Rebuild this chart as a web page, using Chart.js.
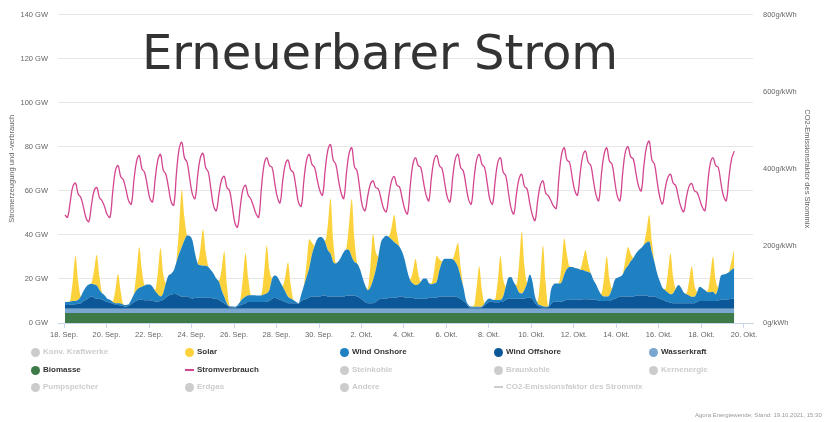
<!DOCTYPE html>
<html>
<head>
<meta charset="utf-8">
<script src="https://cdn.jsdelivr.net/npm/chart.js@4.4.1/dist/chart.umd.min.js"></script>
<style>
  html, body { margin: 0; padding: 0; background: #fff; }
  #wrap { position: relative; width: 826px; height: 422px; overflow: hidden; font-family: "Liberation Sans", Arial, sans-serif; }
  #c { position: absolute; left: 0; top: 0; }
  #title { position: absolute; left: 142px; top: 28px; font-family: "DejaVu Sans", Verdana, sans-serif; font-size: 48px; line-height: 48px; color: #333; white-space: nowrap; }
  .lg { position: absolute; font-size: 8px; font-weight: bold; color: #333; white-space: nowrap; line-height: 10px; }
  .lg.off { color: #cccccc; }
  .dot { position: absolute; width: 9px; height: 9px; border-radius: 50%; }
  .ln { position: absolute; width: 9px; height: 1.5px; }
  #foot { position: absolute; left: 695px; top: 411px; font-size: 6px; color: #999; white-space: nowrap; line-height: 8px; }
</style>
</head>
<body>
<div id="wrap">
  <canvas id="c" width="826" height="422"></canvas>
  <div id="title">Erneuerbarer Strom</div>
  <div id="legend"></div>
  <div id="foot">Agora Energiewende; Stand: 19.10.2021, 15:30</div>
</div>
<script>
// ---- time grid: 3-hourly values starting 18. Sep. 2021, 01:00 ----
const firstHour = 1;
const stepHours = 3;
const tickLabels = ['18. Sep.', '20. Sep.', '22. Sep.', '24. Sep.', '26. Sep.', '28. Sep.', '30. Sep.', '2. Okt.', '4. Okt.', '6. Okt.', '8. Okt.', '10. Okt.', '12. Okt.', '14. Okt.', '16. Okt.', '18. Okt.', '20. Okt.'];

// ---- series (GW), one row per day ----
const biomasse = [
4.5,4.5,4.5,4.5,4.5,4.5,4.5,4.5, 4.5,4.5,4.5,4.5,4.5,4.5,4.5,4.5, 4.5,4.5,4.5,4.5,4.5,4.5,4.5,4.5, 4.5,4.5,4.5,4.5,4.5,4.5,4.5,4.5,
4.5,4.5,4.5,4.5,4.5,4.5,4.5,4.5, 4.5,4.5,4.5,4.5,4.5,4.5,4.5,4.5, 4.5,4.5,4.5,4.5,4.5,4.5,4.5,4.5, 4.5,4.5,4.5,4.5,4.5,4.5,4.5,4.5,
4.5,4.5,4.5,4.5,4.5,4.5,4.5,4.5, 4.5,4.5,4.5,4.5,4.5,4.5,4.5,4.5, 4.5,4.5,4.5,4.5,4.5,4.5,4.5,4.5, 4.5,4.5,4.5,4.5,4.5,4.5,4.5,4.5,
4.5,4.5,4.5,4.5,4.5,4.5,4.5,4.5, 4.5,4.5,4.5,4.5,4.5,4.5,4.5,4.5, 4.5,4.5,4.5,4.5,4.5,4.5,4.5,4.5, 4.5,4.5,4.5,4.5,4.5,4.5,4.5,4.5,
4.5,4.5,4.5,4.5,4.5,4.5,4.5,4.5, 4.5,4.5,4.5,4.5,4.5,4.5,4.5,4.5, 4.5,4.5,4.5,4.5,4.5,4.5,4.5,4.5, 4.5,4.5,4.5,4.5,4.5,4.5,4.5,4.5,
4.5,4.5,4.5,4.5,4.5,4.5,4.5,4.5, 4.5,4.5,4.5,4.5,4.5,4.5,4.5,4.5, 4.5,4.5,4.5,4.5,4.5,4.5,4.5,4.5, 4.5,4.5,4.5,4.5,4.5,4.5,4.5,4.5,
4.5,4.5,4.5,4.5,4.5,4.5,4.5,4.5, 4.5,4.5,4.5,4.5,4.5,4.5,4.5,4.5, 4.5,4.5,4.5,4.5,4.5,4.5,4.5,4.5, 4.5,4.5,4.5,4.5,4.5,4.5,4.5,4.5,
4.5,4.5,4.5,4.5,4.5,4.5,4.5,4.5, 4.5,4.5,4.5,4.5,4.5,4.5,4.5,4.5, 4.5,4.5,4.5,4.5,4.5,4.5,4.5,4.5, 4.5,4.5,4.5,4.5,4.5
];
const wasserkraft = [
2.0,2.0,2.0,2.0,2.0,2.0,2.0,2.0, 2.0,2.0,2.0,2.0,2.0,2.0,2.0,2.0, 2.0,2.0,2.0,2.0,2.0,2.0,2.0,2.0, 2.0,2.0,2.0,2.0,2.0,2.0,2.0,2.0,
2.0,2.0,2.0,2.0,2.0,2.0,2.0,2.0, 2.0,2.0,2.0,2.0,2.0,2.0,2.0,2.0, 2.0,2.0,2.0,2.0,2.0,2.0,2.0,2.0, 2.0,2.0,2.0,2.0,2.0,2.0,2.0,2.0,
2.0,2.0,2.0,2.0,2.0,2.0,2.0,2.0, 2.0,2.0,2.0,2.0,2.0,2.0,2.0,2.0, 2.0,2.0,2.0,2.0,2.0,2.0,2.0,2.0, 2.0,2.0,2.0,2.0,2.0,2.0,2.0,2.0,
2.0,2.0,2.0,2.0,2.0,2.0,2.0,2.0, 2.0,2.0,2.0,2.0,2.0,2.0,2.0,2.0, 2.0,2.0,2.0,2.0,2.0,2.0,2.0,2.0, 2.0,2.0,2.0,2.0,2.0,2.0,2.0,2.0,
2.0,2.0,2.0,2.0,2.0,2.0,2.0,2.0, 2.0,2.0,2.0,2.0,2.0,2.0,2.0,2.0, 2.0,2.0,2.0,2.0,2.0,2.0,2.0,2.0, 2.0,2.0,2.0,2.0,2.0,2.0,2.0,2.0,
2.0,2.0,2.0,2.0,2.0,2.0,2.0,2.0, 2.0,2.0,2.0,2.0,2.0,2.0,2.0,2.0, 2.0,2.0,2.0,2.0,2.0,2.0,2.0,2.0, 2.0,2.0,2.0,2.0,2.0,2.0,2.0,2.0,
2.0,2.0,2.0,2.0,2.0,2.0,2.0,2.0, 2.0,2.0,2.0,2.0,2.0,2.0,2.0,2.0, 2.0,2.0,2.0,2.0,2.0,2.0,2.0,2.0, 2.0,2.0,2.0,2.0,2.0,2.0,2.0,2.0,
2.0,2.0,2.0,2.0,2.0,2.0,2.0,2.0, 2.0,2.0,2.0,2.0,2.0,2.0,2.0,2.0, 2.0,2.0,2.0,2.0,2.0,2.0,2.0,2.0, 2.0,2.0,2.0,2.0,2.0
];
const windOffshore = [
1.7,1.7,1.8,1.9,2.0,2.2,2.5,3.5,
4.0,5.0,5.5,5.0,4.5,4.5,4.0,3.5,
3.0,2.7,2.3,1.8,1.7,1.5,1.1,0.9,
1.3,2.0,3.0,3.7,4.0,4.0,3.8,3.8,
3.8,3.5,3.3,3.3,3.5,4.0,5.0,6.0,
6.3,6.7,6.5,6.0,5.5,5.5,5.5,5.0,
4.6,5.0,5.0,5.0,5.0,5.0,5.0,5.0,
4.5,4.5,3.9,3.1,2.4,1.6,0.7,0.6,
0.5,1.0,1.5,2.0,2.5,3.0,3.0,3.0,
3.0,3.0,3.0,3.0,3.3,3.5,4.5,5.0,
4.5,4.0,3.5,3.0,2.5,2.5,2.5,2.5,
2.3,3.5,4.0,4.5,5.0,5.5,5.5,5.5,
5.5,6.0,6.0,5.5,5.5,5.5,5.5,5.5,
5.5,5.5,6.0,6.0,6.0,6.0,5.5,5.0,
4.0,3.0,2.5,2.5,2.5,3.0,4.0,4.5,
4.5,4.5,5.0,5.0,5.0,5.0,5.5,5.5,
5.0,5.0,5.0,5.0,4.5,4.5,4.5,4.5,
4.5,5.0,5.0,5.0,5.0,5.5,5.5,5.5,
5.5,5.5,5.5,5.5,5.0,4.5,3.5,2.5,
0.8,0.5,0.4,0.4,0.5,0.6,1.5,2.5,
3.1,3.0,2.9,2.9,3.0,3.3,4.0,4.5,
4.5,4.5,4.5,4.5,4.5,4.5,5.0,5.0,
4.5,2.5,1.3,0.8,0.7,0.7,0.8,2.0,
3.1,3.1,3.1,3.3,3.5,4.0,4.0,4.0,
4.0,4.0,4.0,4.3,4.3,4.3,4.0,4.0,
4.0,3.5,3.5,3.5,3.5,3.5,4.0,4.5,
5.0,5.5,5.5,5.5,5.5,5.5,5.5,6.0,
6.0,6.0,6.0,6.0,5.5,5.5,5.5,5.0,
4.5,4.0,3.5,3.0,2.7,2.5,2.5,2.5,
2.5,2.5,2.5,2.5,2.5,2.5,3.0,3.5,
3.5,3.5,3.5,3.5,3.5,3.5,3.7,4.0,
4.0,4.0,4.3,4.5,4.5
];
const windOnshore = [
1.3,1.3,1.5,1.6,1.5,1.8,3.0,4.5,
6.0,6.0,5.8,6.0,6.0,4.0,3.0,2.5,
1.5,1.3,0.7,0.7,0.8,0.8,0.7,0.8,
0.7,2.0,3.5,4.8,5.5,6.0,6.7,7.2,
7.2,6.5,4.7,3.2,2.0,3.0,6.5,9.0,
9.6,10.7,14.7,19.0,22.5,25.5,27.7,28.0,
26.4,20.0,15.5,14.7,14.5,14.5,13.9,12.4,
11.4,9.2,8.3,5.3,3.0,0.8,0.4,0.4,
0.4,0.6,1.6,2.6,2.9,3.1,3.1,3.1,
3.0,3.0,3.0,3.5,3.7,5.0,9.0,10.0,
9.9,8.2,6.4,4.7,2.9,2.1,1.4,0.6,
0.2,3.0,6.5,10.0,13.5,19.0,23.0,26.0,
27.0,26.2,24.2,21.0,19.5,15.7,15.0,16.0,
18.0,20.2,20.8,20.5,17.5,15.2,15.0,13.2,
10.4,7.7,5.9,7.1,10.4,14.4,19.5,25.7,
27.7,28.6,27.5,26.4,25.2,24.2,22.5,20.2,
16.9,11.7,7.9,6.4,6.2,6.5,7.7,9.2,
9.2,6.7,6.1,6.4,7.2,11.9,15.7,17.2,
17.2,17.2,16.9,15.7,13.9,9.9,6.4,1.4,
0.8,0.5,0.5,0.5,0.4,0.4,1.0,1.5,
1.5,1.0,1.0,1.0,1.0,2.2,5.9,9.5,
9.9,7.5,5.4,2.8,2.4,4.0,6.5,10.5,
8.0,3.0,1.2,0.7,0.4,0.2,0.1,6.5,
7.9,8.3,8.3,8.7,12.0,14.0,14.9,14.9,
14.5,14.2,13.7,13.2,12.7,12.4,12.0,9.0,
7.0,4.8,2.8,2.0,2.0,2.6,5.0,8.5,
9.0,9.0,10.0,12.5,14.0,16.0,17.5,19.0,
20.5,21.5,23.0,24.0,25.0,20.0,15.5,11.0,
8.0,5.5,4.9,4.3,3.8,4.5,6.5,8.2,
7.0,4.8,4.0,3.5,2.9,2.9,4.5,6.5,
5.8,4.9,4.0,4.0,4.2,3.0,5.8,11.0,
11.5,11.9,12.2,13.2,13.8
];
const solar = [
0,0,0.6,9.5,20.5,8.5,0.3,0,
0,0,0.4,6.5,14,6,0.2,0,
0,0,0.4,6,13.4,5.5,0.2,0,
0,0,0.5,8.5,18.5,7.5,0.2,0,
0,0,0.6,10,22,9,0.3,0,
0,0,0.8,12,26,10.5,0.3,0,
0,0,0.5,7.5,16.5,6.5,0.2,0,
0,0,0.6,9.5,20.5,8.5,0.3,0,
0,0,0.6,9,19.8,8,0.3,0,
0,0,0.6,10,21.7,9,0.3,0,
0,0,0.5,7,15.7,6.5,0.2,0,
0,0,0.4,6,13,5.5,0.2,0,
0,0,0.7,11.5,25,10,0.3,0,
0,0,0.8,12,26.3,10.5,0.3,0,
0,0,0.6,9.5,21,8.5,0.3,0,
0,0,0.4,5.5,12.4,5,0.2,0,
0,0,0.4,5.5,12,5,0.2,0,
0,0,0.4,5.5,11.8,5,0.2,0,
0,0,0.3,5,11,4.5,0.2,0,
0,0,0.5,8.5,18.3,7.5,0.2,0,
0,0,0.6,9,19.8,8,0.3,0,
0,0,0.8,13,28,11,0.3,0,
0,0,0.8,12.5,27.6,11,0.3,0,
0,0,0.5,7.5,16.5,6.5,0.2,0,
0,0,0.3,4.5,9.5,4,0.1,0,
0,0,0.5,8.5,18.3,7.5,0.2,0,
0,0,0.3,4,8.5,3.5,0.1,0,
0,0,0.4,5.5,12,5,0.2,0,
0,0,0.5,8.5,18.5,7.5,0.2,0,
0,0,0.4,6.5,13.8,5.5,0.2,0,
0,0,0.5,7.5,16,6.5,0.2,0,
0,0,0.3,4,8.9
];
const stromverbrauch = [
49,48,55,62,63.5,58.5,57,52.5,
47.5,46,53.5,60,61.5,57,55.5,52.5,
49,48,59.5,69,71.5,66.5,65,60.5,
55.5,54,65,73.5,76,70,68.3,62.5,
56.5,55,65.5,74,76.5,69.5,67.5,61.5,
55,53.5,68,79,82,75,72.9,65.5,
58.5,56.5,67,75,77,70.5,68.5,60.5,
53,51,58.5,65,66.5,61.5,60,53,
45.5,43.5,52.5,60.5,62.5,58,56.3,53,
49.5,48,61.5,72,75,71.5,70.6,63.5,
57,54.5,64.5,72,74,69.5,68.3,61.5,
54.5,53,65,74,76.5,72,70.6,65,
60,58,69.5,78.5,81,74,72,65,
59,56.5,68,77,79.5,71,69,61,
53,51,57.5,63,64.5,61.5,60.8,56.5,
52,50.5,58,64.5,66.5,62.5,61.7,56.5,
51.5,49.5,62,72,75,71.5,70.6,64,
58,55.5,66,74,76,71.5,70,63.5,
57,55,66,74.5,76.5,70.5,69,62.5,
56,54,65,74,76.5,72,70.6,63.5,
56,54,64.5,73,75,68.5,66.8,59,
52,49.5,58.5,65.5,67.5,62,60.8,54.5,
49,46.5,55.5,62.5,64.5,59,57.8,55.5,
53,52,66,76.5,79.5,74,72.9,66,
60,58,68,76,78,73,71.5,64.5,
58,55.5,67.5,76.5,79.5,73.5,72.1,64.5,
57.5,55.5,68,77.5,80,75.5,74.4,68,
62,60,71.5,80,82.5,74,72,64,
57,54,61,66,67.5,63.5,62.3,57,
52.5,50.5,57,62,63.3,60,59.3,56,
52.5,51,63,72.5,75,71.5,70.6,63.5,
57.5,55.5,66,74.5,78
];

// ---- legend entries ----
const legendItems = [
  ['Konv. Kraftwerke', null, 'dot'], ['Solar', '#fbd23b', 'dot'], ['Wind Onshore', '#1f80c2', 'dot'], ['Wind Offshore', '#0b5797', 'dot'], ['Wasserkraft', '#79a7d0', 'dot'],
  ['Biomasse', '#3d7a47', 'dot'], ['Stromverbrauch', '#d3468f', 'line'], ['Steinkohle', null, 'dot'], ['Braunkohle', null, 'dot'], ['Kernenergie', null, 'dot'],
  ['Pumpspeicher', null, 'dot'], ['Erdgas', null, 'dot'], ['Andere', null, 'dot'], ['CO2-Emissionsfaktor des Strommix', null, 'line']
];

const hours = stromverbrauch.map((_, i) => firstHour + i * stepHours);
const pts = arr => arr.map((v, i) => ({ x: hours[i], y: v }));

const area = (label, arr, color, fill) => ({
  label, data: pts(arr), stack: 'gen', fill, backgroundColor: color, borderColor: color,
  borderWidth: 0, pointRadius: 0, cubicInterpolationMode: 'monotone', yAxisID: 'y'
});

const baseFont = { family: '"Liberation Sans", Arial, sans-serif', size: 7.5 };

new Chart(document.getElementById('c'), {
  type: 'line',
  data: {
    datasets: [
      { label: 'Stromverbrauch', data: pts(stromverbrauch), stack: 'load', fill: false, borderColor: '#d3468f',
        borderWidth: 1.3, pointRadius: 0, tension: 0.4, yAxisID: 'y' },
      area('Biomasse', biomasse, '#3d7a47', 'origin'),
      area('Wasserkraft', wasserkraft, '#79a7d0', '-1'),
      area('Wind Offshore', windOffshore, '#0b5797', '-1'),
      area('Wind Onshore', windOnshore, '#1f80c2', '-1'),
      area('Solar', solar, '#fbd23b', '-1')
    ]
  },
  options: {
    responsive: false,
    animation: false,
    devicePixelRatio: 1,
    layout: { padding: { top: 13, left: 0, right: 0, bottom: 0 } },
    plugins: { legend: { display: false }, tooltip: { enabled: false } },
    scales: {
      x: {
        type: 'linear', min: -6.8, max: 778.2,
        afterBuildTicks: s => { s.ticks = tickLabels.map((_, i) => ({ value: i * 48 })); },
        afterFit: s => { s.height = 99; },
        ticks: { autoSkip: false, maxRotation: 0, padding: 2, color: '#666', font: baseFont,
                 callback: (v, i) => tickLabels[i] },
        grid: { drawOnChartArea: false, drawTicks: true, tickLength: 5, color: '#ccd6eb' },
        border: { display: true, color: '#ccd6eb' }
      },
      y: {
        position: 'left', stacked: true, min: 0, max: 140,
        afterFit: s => { s.width = 58; },
        ticks: { stepSize: 20, padding: 10, color: '#666', font: baseFont, callback: v => v + ' GW' },
        grid: { color: '#e6e6e6', drawTicks: false },
        border: { display: false },
        title: { display: true, text: 'Stromerzeugung und -verbrauch', color: '#666', font: baseFont, padding: { top: 7.5, bottom: 0 } }
      },
      y2: {
        position: 'right', min: 0, max: 800,
        afterFit: s => { s.width = 73; },
        ticks: { stepSize: 200, padding: 10, color: '#666', font: baseFont, callback: v => v + 'g/kWh' },
        grid: { drawOnChartArea: false, drawTicks: false },
        border: { display: false },
        title: { display: true, text: 'CO2-Emissionsfaktor des Strommix', color: '#666', font: baseFont, padding: { top: 14.5, bottom: 0 } }
      }
    }
  }
});

// ---- HTML legend ----
const colX = [35, 189, 344, 498, 653];
const rowY = [352, 370, 387];
const lg = document.getElementById('legend');
legendItems.forEach(([name, color, kind], i) => {
  const cx = colX[i % 5], cy = rowY[Math.floor(i / 5)];
  const c = color || '#cccccc';
  const m = document.createElement('div');
  if (kind === 'dot') {
    m.className = 'dot'; m.style.left = (cx - 4.5) + 'px'; m.style.top = (cy - 4.5) + 'px'; m.style.background = c;
  } else {
    m.className = 'ln'; m.style.left = (cx - 4) + 'px'; m.style.top = (cy - 0.75) + 'px'; m.style.background = c;
  }
  lg.appendChild(m);
  const t = document.createElement('div');
  t.className = 'lg' + (color ? '' : ' off');
  t.style.left = (cx + 8) + 'px'; t.style.top = (cy - 5) + 'px';
  t.textContent = name;
  lg.appendChild(t);
});
</script>
</body>
</html>
